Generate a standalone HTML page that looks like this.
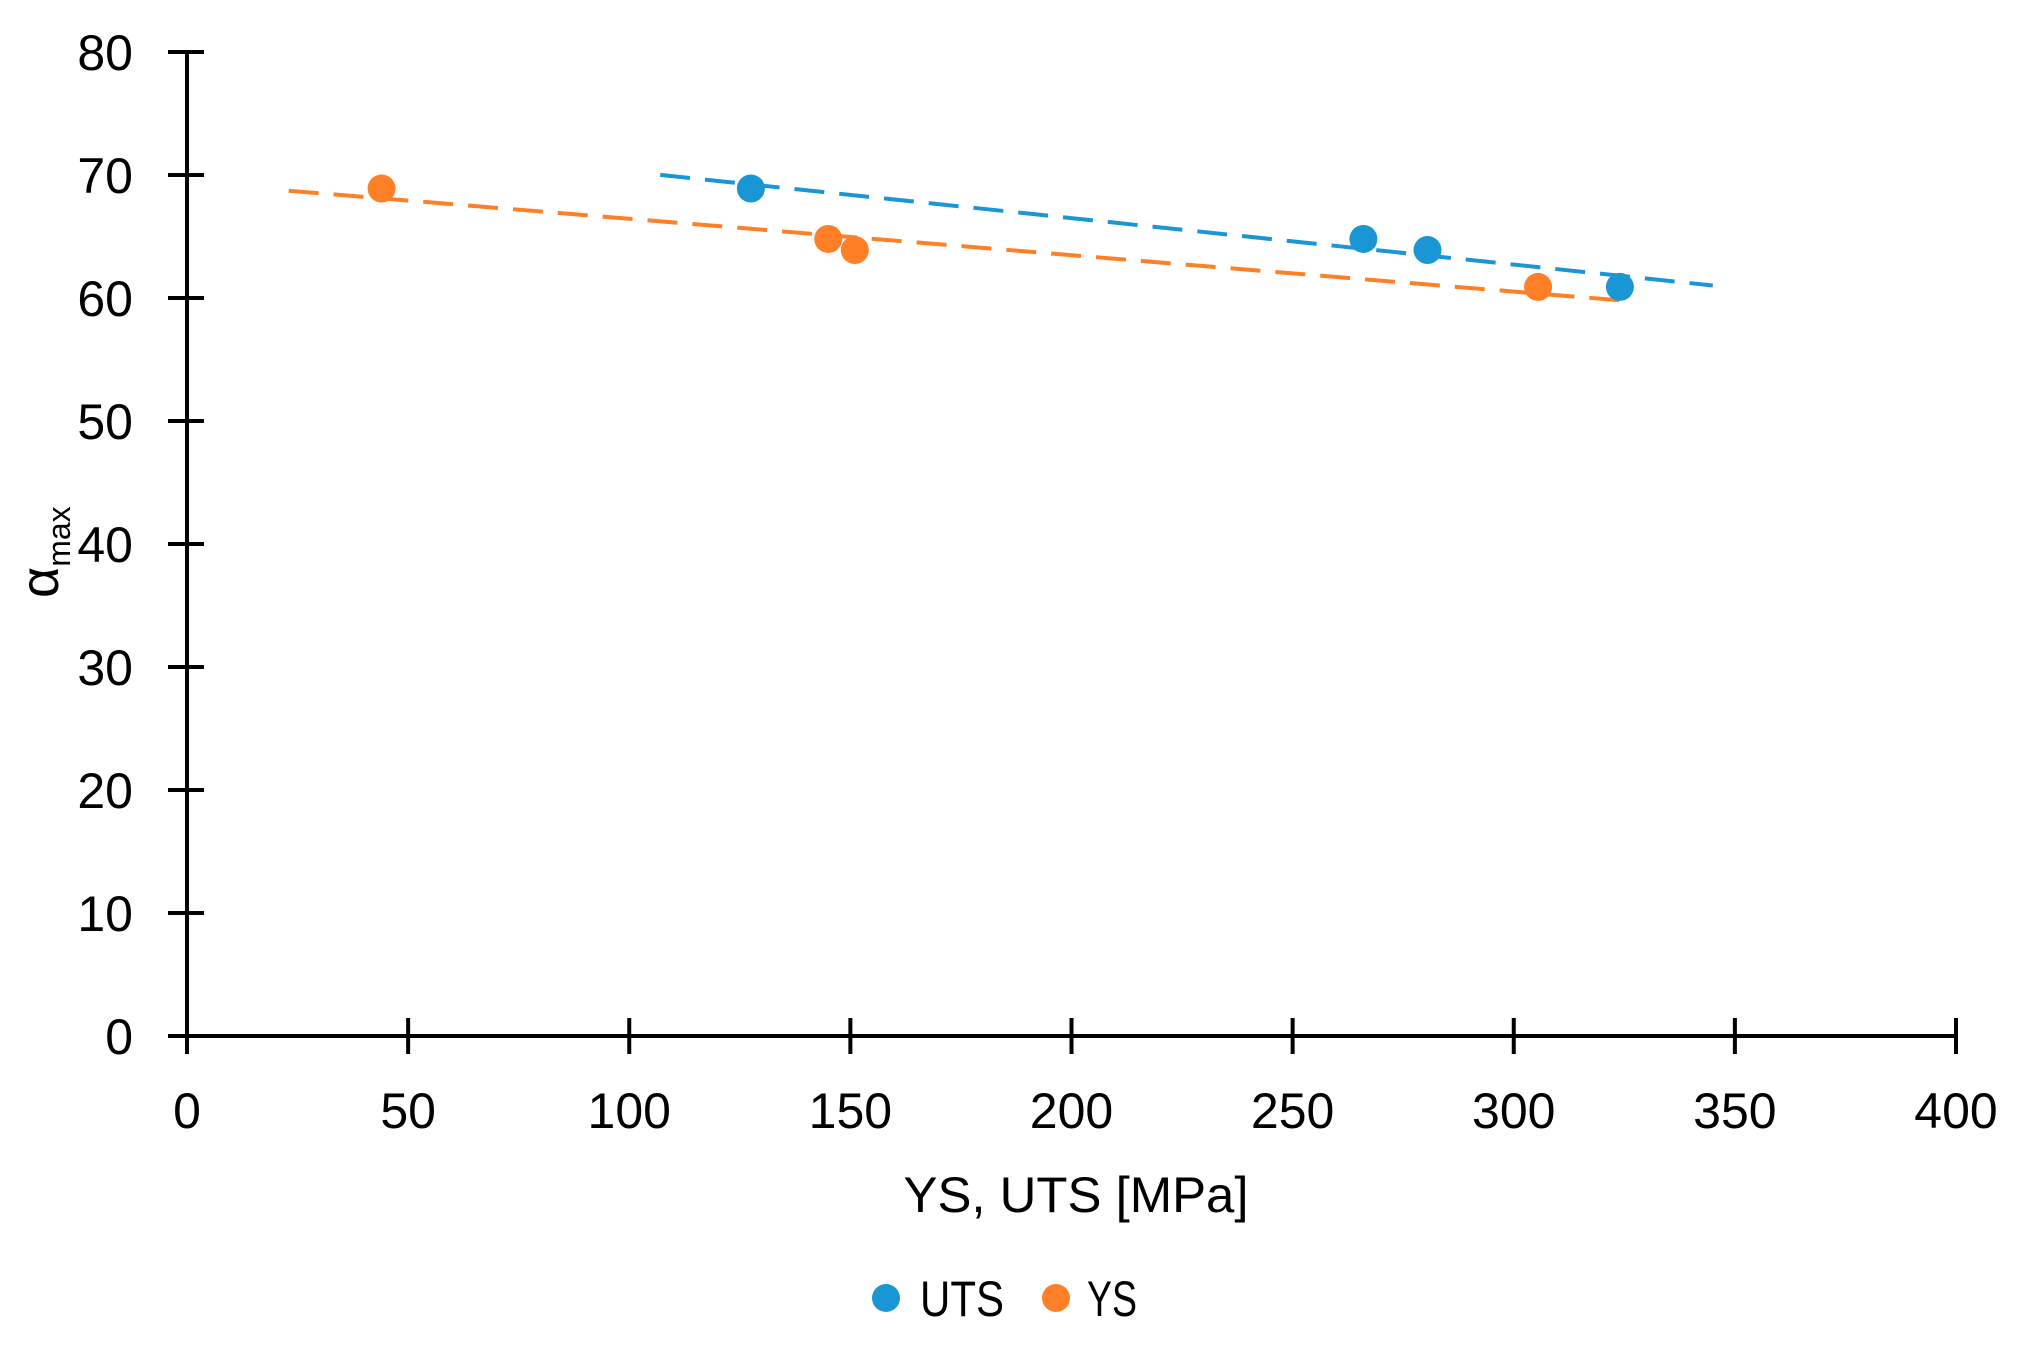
<!DOCTYPE html>
<html><head><meta charset="utf-8"><style>
html,body{margin:0;padding:0;background:#fff;}
svg{display:block;font-family:"Liberation Sans",sans-serif;}
</style></head><body>
<svg id="chart" width="2027" height="1353" viewBox="0 0 2027 1353" xmlns="http://www.w3.org/2000/svg">
<g id="grid"></g>
<g id="marks"></g>
<text x="1076" y="1212" font-size="50" text-anchor="middle" fill="#000" textLength="345" lengthAdjust="spacingAndGlyphs">YS,  UTS  [MPa]</text>
<g transform="translate(58,598) rotate(-90)">
<text x="0" y="0" font-size="54" fill="#000" text-anchor="start">α<tspan font-size="32" dy="12">max</tspan></text>
</g>
<g>
<g>
<circle cx="886" cy="1298" r="14" fill="#1b96d5"/>
<text x="920" y="1316" font-size="50" fill="#000" textLength="84" lengthAdjust="spacingAndGlyphs">UTS</text>
</g>
<g>
<circle cx="1056" cy="1298" r="14" fill="#ff7f26"/>
<text x="1087" y="1316" font-size="50" fill="#000" textLength="50" lengthAdjust="spacingAndGlyphs">YS</text>
</g>
</g>
</svg>
<script>
const xTicks = [0,50,100,150,200,250,300,350,400];
const yTicks = [0,10,20,30,40,50,60,70,80];
const seriesNames = ["UTS","YS"];
const utsX = [127.5,266,280.5,324];
const utsY = [68.9,64.8,63.9,60.9];
const ysX = [44,145,151,305.5];
const ysY = [68.9,64.8,63.9,60.9];
const trendStart = [107,23];
const trendEnd = [345,325];
const colors = ["#1b96d5","#ff7f26"];

const X0=187, X1=1956, Y0=1036, Y1=52;
const xs = v => X0 + (v-0)/(400-0)*(X1-X0);
const ys = v => Y0 - (v-0)/(80-0)*(Y0-Y1);
const NS="http://www.w3.org/2000/svg";
const grid=document.getElementById('grid'), marks=document.getElementById('marks');
function mk(tag,attrs,parent){const e=document.createElementNS(NS,tag);for(const k in attrs)e.setAttribute(k,attrs[k]);parent.appendChild(e);return e;}

let ax=mk('line',{x1:X0,y1:Y0,x2:X0,y2:Y1,stroke:'#000','stroke-width':4},grid);


ax=mk('line',{x1:168,y1:Y0,x2:X1,y2:Y0,stroke:'#000','stroke-width':4},grid);


yTicks.forEach(t=>{
  const y=ys(t);
  const l=mk('line',{x1:168,y1:y,x2:204,y2:y,stroke:'#000','stroke-width':4},grid);
  
  
  const tx=mk('text',{x:133,y:y+18,'font-size':50,'text-anchor':'end',fill:'#000'},grid);
  tx.textContent=t;
  
  
});
xTicks.forEach(t=>{
  const x=xs(t);
  const l=mk('line',{x1:x,y1:1018,x2:x,y2:1054,stroke:'#000','stroke-width':4},grid);
  
  
  const tx=mk('text',{x:x,y:1128,'font-size':50,'text-anchor':'middle',fill:'#000'},grid);
  tx.textContent=t;
  
  
});
const data=[[utsX,utsY],[ysX,ysY]];
data.forEach((d,i)=>{
  const [X,Y]=d,n=X.length;
  const mx=X.reduce((a,b)=>a+b)/n,my=Y.reduce((a,b)=>a+b)/n;
  let sxy=0,sxx=0;X.forEach((x,j)=>{sxy+=(x-mx)*(Y[j]-my);sxx+=(x-mx)*(x-mx);});
  const b=sxy/sxx,a=my-b*mx;
  const l=mk('line',{x1:xs(trendStart[i]),y1:ys(a+b*trendStart[i]),x2:xs(trendEnd[i]),y2:ys(a+b*trendEnd[i]),stroke:colors[i],'stroke-width':4,'stroke-dasharray':'30 15'},marks);
  
  
});
data.forEach((d,i)=>{
  d[0].forEach((x,j)=>{
    const c=mk('circle',{cx:xs(x),cy:ys(d[1][j]),r:14,fill:colors[i]},marks);
    
    
  });
});
</script>
</body></html>
